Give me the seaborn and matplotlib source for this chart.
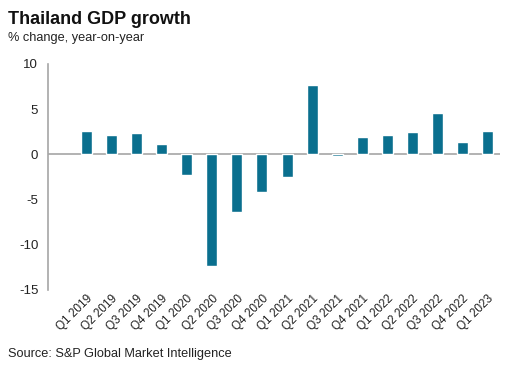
import pandas as pd
import numpy as np
import seaborn as sns
import matplotlib.pyplot as plt

# quarters and y/y growth (%)
QUARTERS = ['Q1 2019', 'Q2 2019', 'Q3 2019', 'Q4 2019',
            'Q1 2020', 'Q2 2020', 'Q3 2020', 'Q4 2020',
            'Q1 2021', 'Q2 2021', 'Q3 2021', 'Q4 2021',
            'Q1 2022', 'Q2 2022', 'Q3 2022', 'Q4 2022',
            'Q1 2023']
GROWTH = [2.6, 2.1, 2.4, 1.1,
          -2.3, -12.3, -6.4, -4.2,
          -2.5, 7.7, -0.2, 1.9,
          2.2, 2.5, 4.6, 1.4,
          2.6]
Y_TICKS = [-15, -10, -5, 0, 5, 10]

BAR_COLOR = '#0a6f8e'
AXIS_GREY = '#a6a6a6'

if __name__ == '__main__':
    df = pd.DataFrame({'quarter': QUARTERS, 'growth': GROWTH})

    sns.set_style('white')
    plt.rcParams['font.family'] = ['Liberation Sans', 'DejaVu Sans']

    fig = plt.figure(figsize=(5.05, 3.66), dpi=100)
    ax = fig.add_axes([48 / 505, 1 - 290 / 366, 452 / 505, 226 / 366])

    sns.barplot(data=df, x='quarter', y='growth', color=BAR_COLOR,
                saturation=1, width=0.44, ax=ax)

    ax.set_xlim(-1.54, len(QUARTERS) - 0.5)
    ax.set_ylim(-15, 10)
    ax.set_yticks(Y_TICKS)
    ax.set_yticklabels([str(t) for t in Y_TICKS], fontsize=9.5, color='#222222')
    ax.set_xlabel('')
    ax.set_ylabel('')

    # zero line
    ax.axhline(0, color=AXIS_GREY, lw=1.2, zorder=0)

    for side in ['top', 'right', 'bottom']:
        ax.spines[side].set_visible(False)
    ax.spines['left'].set_color(AXIS_GREY)
    ax.spines['left'].set_linewidth(1.2)
    ax.tick_params(axis='y', length=0, pad=7)
    ax.tick_params(axis='x', length=0, pad=2)
    plt.setp(ax.get_xticklabels(), rotation=45, ha='right',
             rotation_mode='anchor', fontsize=8.5, color='#222222')

    fig.text(8 / 505, 1 - 20 / 366, 'Thailand GDP growth', fontsize=13,
             fontweight='bold', va='center', color='#111111')
    fig.text(8 / 505, 1 - 38 / 366, '% change, year-on-year', fontsize=9.2,
             va='center', color='#222222')
    fig.text(8 / 505, 1 - 354 / 366, 'Source: S&P Global Market Intelligence',
             fontsize=9.2, va='center', color='#222222')

    fig.savefig('out.png', dpi=100)
